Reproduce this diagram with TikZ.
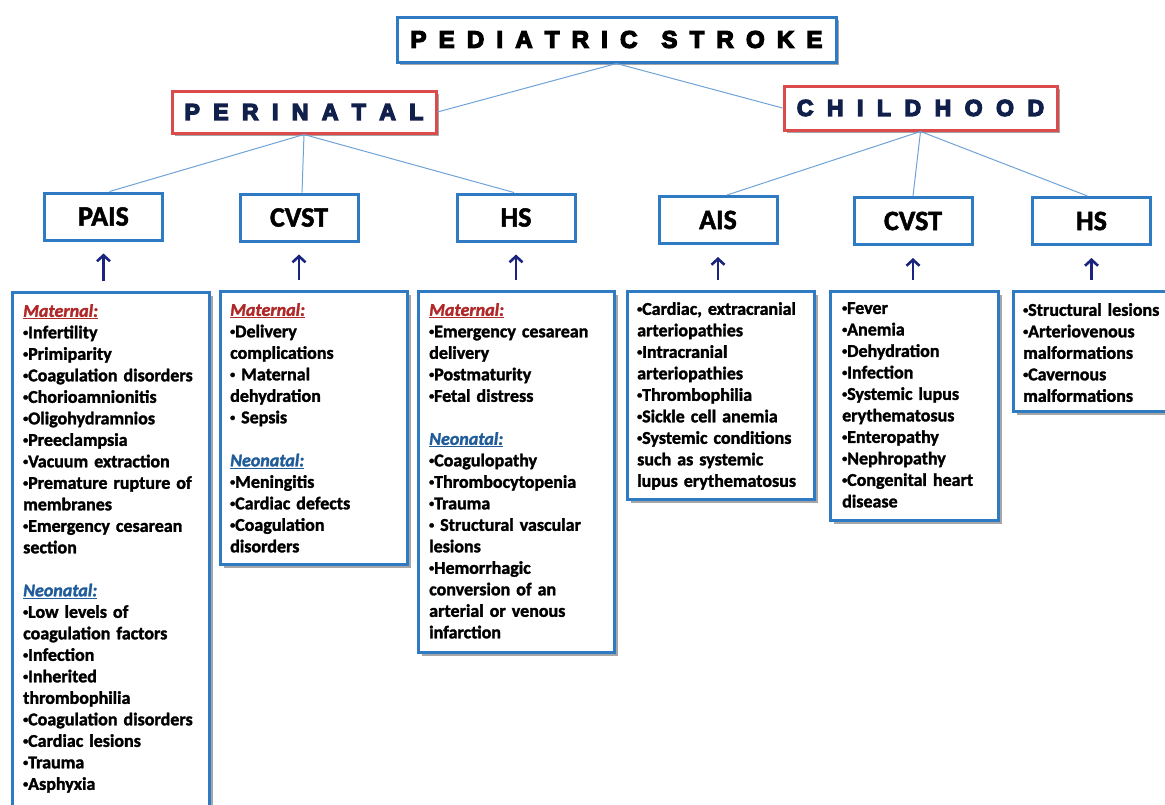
\documentclass[tikz,border=0pt]{standalone}
\usepackage{fontspec}
\setmainfont{Carlito}
\newfontfamily\titlefont{Liberation Sans}
\usetikzlibrary{shadows,arrows.meta,calc}
\definecolor{boxblue}{HTML}{2E7BC4}
\definecolor{boxred}{HTML}{DC4B4B}
\definecolor{linkblue}{HTML}{6FA3D8}
\definecolor{navytxt}{HTML}{10204A}
\definecolor{arrowcol}{HTML}{1A237E}
\definecolor{matred}{HTML}{B02828}
\definecolor{neoblue}{HTML}{1F5C99}
\newcommand\heavy[2]{\special{pdf:literal direct 2 Tr #1 w}#2\special{pdf:literal direct 0 Tr}}
\makeatletter
\newcommand\spaced[2]{\@tfor\ch:=#2\do{\ch\hspace{#1}}\unskip}
\makeatother
\newcommand\bu{\raisebox{2.6pt}{\fontsize{10}{10}\selectfont•}}
\newcommand\hmat{{\color{matred}\itshape\underline{Maternal:}}}
\newcommand\hneo{{\color{neoblue}\itshape\underline{Neonatal:}}}
\tikzset{
  shad/.style={drop shadow={shadow xshift=3pt,shadow yshift=-3pt,fill=black,opacity=0.35}},
  titlebox/.style={draw=boxblue,line width=3pt,fill=white,inner sep=0pt,shad},
  redbox/.style={draw=boxred,line width=3pt,fill=white,inner sep=0pt,shad,
     font=\titlefont\bfseries\fontsize{23}{26}\selectfont,text=navytxt},
  subbox/.style={draw=boxblue,line width=3pt,fill=white,inner sep=0pt,
     minimum width=118pt,minimum height=47pt,font=\bfseries\fontsize{28}{30}\selectfont},
  listbox/.style={draw=boxblue,line width=3pt,fill=white,inner sep=0pt,anchor=north west,shad},
  listtext/.style={anchor=north west,inner sep=0pt,align=left,text width=190pt,
     font=\bfseries\fontsize{18}{21.5}\selectfont,
     execute at begin node={\special{pdf:literal direct 2 Tr 0.3 w}},
     execute at end node={\special{pdf:literal direct 0 Tr}}},
  link/.style={draw=linkblue,line width=1pt},
  uparrow/.style={draw=arrowcol,line width=2.6pt,-{Straight Barb[length=6pt,width=13pt,line width=2.6pt]}}
}
\begin{document}
\begin{tikzpicture}[x=1pt,y=-1pt]
\useasboundingbox (0,0) rectangle (1165,804);
\clip (0,0) rectangle (1165,804);
% top level
\node[titlebox,minimum width=439pt,minimum height=45pt,
  font=\titlefont\bfseries\fontsize{24}{26}\selectfont] (ps) at (616.5,39.5)
  {\heavy{1.3}{\spaced{12.2pt}{PEDIATRIC}\hspace{24pt}\spaced{12.2pt}{STROKE}}};
\node[redbox,minimum width=264pt,minimum height=42pt] (peri) at (304,112)
  {\heavy{1.3}{\spaced{13.4pt}{PERINATAL}}};
\node[redbox,minimum width=273pt,minimum height=44pt] (child) at (920.5,108)
  {\heavy{1.3}{\spaced{13.5pt}{CHILDHOOD}}};
% sub boxes
\node[subbox] (pais) at (103.5,216.5) {\heavy{0.5}{PAIS}};
\node[subbox] (cvst) at (299,217.5) {\heavy{0.5}{CVST}};
\node[subbox] (hs) at (516,217.5) {\heavy{0.5}{HS}};
\node[subbox] (ais) at (718,220) {\heavy{0.5}{AIS}};
\node[subbox] (cvstb) at (913,221) {\heavy{0.5}{CVST}};
\node[subbox] (hsb) at (1091.5,221) {\heavy{0.5}{HS}};
% links
\draw[link] (ps.south) -- (peri.east);
\draw[link] (ps.south) -- (child.west);
\draw[link] (peri.south) -- ($(pais.north)+(6,0)$);
\draw[link] (peri.south) -- ($(cvst.north)+(3,0)$);
\draw[link] (peri.south) -- ($(hs.north)+(-2,0)$);
\draw[link] (child.south) -- ($(ais.north)+(9,0)$);
\draw[link] (child.south) -- (cvstb.north);
\draw[link] (child.south) -- ($(hsb.north)+(-4,0)$);
% list boxes
\node[listbox,minimum width=197pt,minimum height=540pt] (lpais) at (11,291) {};
\node[listbox,minimum width=187pt,minimum height=273pt] (lcvst) at (219,290) {};
\node[listbox,minimum width=196pt,minimum height=361pt] (lhs) at (417,290) {};
\node[listbox,minimum width=187pt,minimum height=208pt] (lais) at (626,290) {};
\node[listbox,minimum width=168pt,minimum height=229pt] (lcvstb) at (829,290) {};
\node[listbox,minimum width=170pt,minimum height=120pt] (lhsb) at (1012,290) {};
% arrows
\foreach \s/\l in {pais/lpais,cvst/lcvst,hs/lhs,ais/lais,cvstb/lcvstb,hsb/lhsb}{
  \draw[uparrow] ($(\s.south |- \l.north)+(0,-10)$) -- ($(\s.south)+(0,12)$);
}
% texts
\node[listtext] (tpais) at (23,304) {\hmat\\
\bu Infertility\\
\bu Primiparity\\
\bu Coagulation disorders\\
\bu Chorioamnionitis\\
\bu Oligohydramnios\\
\bu Preeclampsia\\
\bu Vacuum extraction\\
\bu Premature rupture of\\
membranes\\
\bu Emergency cesarean\\
section\\[21.5pt]
\hneo\\
\bu Low levels of\\
coagulation factors\\
\bu Infection\\
\bu Inherited\\
thrombophilia\\
\bu Coagulation disorders\\
\bu Cardiac lesions\\
\bu Trauma\\
\bu Asphyxia};
\node[listtext] (tcvst) at (230,303) {\hmat\\
\bu Delivery\\
complications\\
\bu\ Maternal\\
dehydration\\
\bu\ Sepsis\\[21.5pt]
\hneo\\
\bu Meningitis\\
\bu Cardiac defects\\
\bu Coagulation\\
disorders};
\node[listtext] (ths) at (429,303) {\hmat\\
\bu Emergency cesarean\\
delivery\\
\bu Postmaturity\\
\bu Fetal distress\\[21.5pt]
\hneo\\
\bu Coagulopathy\\
\bu Thrombocytopenia\\
\bu Trauma\\
\bu\ Structural vascular\\
lesions\\
\bu Hemorrhagic\\
conversion of an\\
arterial or venous\\
infarction};
\node[listtext] (tais) at (637,302) {\bu Cardiac, extracranial\\
arteriopathies\\
\bu Intracranial\\
arteriopathies\\
\bu Thrombophilia\\
\bu Sickle cell anemia\\
\bu Systemic conditions\\
such as systemic\\
lupus erythematosus};
\node[listtext] (tcvstb) at (842,302) {\bu Fever\\
\bu Anemia\\
\bu Dehydration\\
\bu Infection\\
\bu Systemic lupus\\
erythematosus\\
\bu Enteropathy\\
\bu Nephropathy\\
\bu Congenital heart\\
disease};
\node[listtext] (thsb) at (1023,303) {\bu Structural lesions\\
\bu Arteriovenous\\
malformations\\
\bu Cavernous\\
malformations};
\end{tikzpicture}
\end{document}
